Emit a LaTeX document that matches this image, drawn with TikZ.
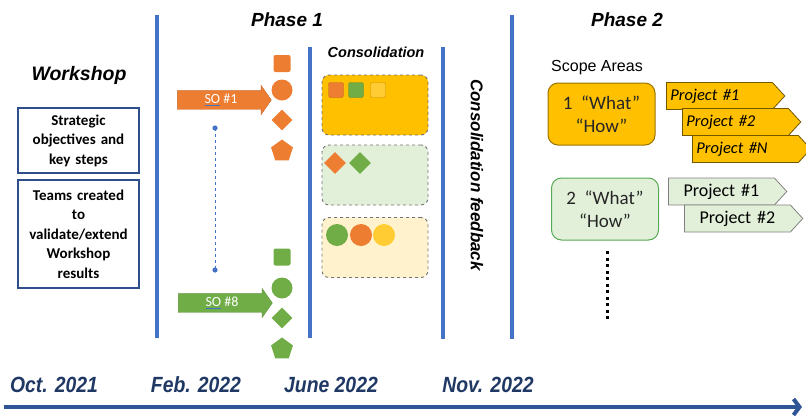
\documentclass[tikz,border=0pt]{standalone}
\usepackage{fontspec}
\setmainfont{Carlito}
\newfontfamily\arial{Liberation Sans}
\newfontfamily\datefont[FakeStretch=0.88]{Liberation Sans}
\usetikzlibrary{shapes.geometric,shapes.symbols,shapes.arrows,arrows.meta}

\definecolor{lineblue}{HTML}{4472C4}
\definecolor{boxblue}{HTML}{2F4E8C}
\definecolor{navy}{HTML}{1F3864}
\definecolor{axisblue}{HTML}{2F5597}
\definecolor{soorange}{HTML}{ED7D31}
\definecolor{sogreen}{HTML}{70AD47}
\definecolor{gold}{HTML}{FFC000}
\definecolor{sunyellow}{HTML}{FFCC33}
\definecolor{lightgreen}{HTML}{E2F0D9}
\definecolor{cream}{HTML}{FFF2CC}

\begin{document}
\begin{tikzpicture}[x=1pt, y=-1pt,
    phaseline/.style={lineblue, line width=3.5},
    heading/.style={font=\fontsize{19}{22}\selectfont\arial\bfseries\itshape},
    wsbox/.style={draw=boxblue, line width=1.6, text width=115, align=center,
        font=\fontsize{15}{19.5}\selectfont\bfseries, inner sep=3},
    soarrow/.style={single arrow, single arrow head extend=5, single arrow tip angle=110,
        minimum height=94, text=white, font=\fontsize{14}{14}\selectfont,
        text height=9.5, text depth=2, inner ysep=3.5, inner xsep=2},
    sqmark/.style={rectangle, rounded corners=2, minimum size=17, inner sep=0},
    dotmark/.style={circle, minimum size=21, inner sep=0},
    diamark/.style={diamond, minimum width=21, minimum height=21, inner sep=0},
    pentmark/.style={regular polygon, regular polygon sides=5, minimum size=23, inner sep=0},
    consbox/.style={draw=black!55, dashed, rounded corners=7, line width=0.9,
        minimum width=106, minimum height=60},
    scopebox/.style={rounded corners=10, line width=1, minimum width=107, minimum height=62,
        align=center, font=\fontsize{19}{23}\selectfont, text=black!85},
    tagbox/.style={signal, signal to=east, signal pointer angle=95, anchor=west,
        minimum height=27, inner ysep=0, inner xsep=4, text width=98, line width=0.8},
    date/.style={font=\fontsize{22}{24}\selectfont\datefont\bfseries\itshape, text=navy}
]
    \useasboundingbox (0,0) rectangle (806,416);
    \def\colx{282}

    \draw[phaseline] (157,15) -- (157,338);
    \draw[phaseline] (310,47) -- (310,338);
    \draw[phaseline] (443,47) -- (443,339);
    \draw[phaseline] (512,15) -- (512,339);

    \node[heading] (phase1) at (287,20) {Phase 1};
    \node[heading] (phase2) at (627,20) {Phase 2};

    \node[heading, font=\fontsize{19.5}{22}\selectfont\arial\bfseries\itshape] (workshop) at (79,75) {Workshop};
    \node[wsbox, minimum height=65] (strategic) at (78.5,140.5) {Strategic\\objectives and\\key steps};
    \node[wsbox, minimum height=108] (teams) at (78.5,234) {Teams created\\to\\validate/extend\\Workshop\\results};

    \node[soarrow, fill=soorange, draw=soorange!85!black] (so1) at (221,100)
        {{\color{lineblue}\underline{\textcolor{white}{SO}}} \#1};
    \node[soarrow, fill=sogreen, draw=sogreen!85!black] (so8) at (222,303)
        {{\color{lineblue}\underline{\textcolor{white}{SO}}} \#8};
    \coordinate (dtop) at (215,128);
    \coordinate (dbot) at (215,270);
    \draw[lineblue, dashed, line width=0.9] (dtop) -- (dbot);
    \fill[lineblue] (dtop) circle (2.6);
    \fill[lineblue] (dbot) circle (2.6);

    \node[sqmark, fill=soorange] (osq) at (\colx,63.5) {};
    \node[dotmark, fill=soorange] (ocirc) at (\colx,90) {};
    \node[diamark, fill=soorange] (odia) at (\colx,120) {};
    \node[pentmark, fill=soorange] (opent) at (\colx,151) {};
    \node[sqmark, fill=sogreen] (gsq) at (\colx,257) {};
    \node[dotmark, fill=sogreen] (gcirc) at (\colx,288) {};
    \node[diamark, fill=sogreen] (gdia) at (\colx,318) {};
    \node[pentmark, fill=sogreen] (gpent) at (\colx,349) {};

    \node[heading, font=\fontsize{14.5}{16}\selectfont\arial\bfseries\itshape] (cons) at (376,52) {Consolidation};
    \node[consbox, fill=gold] (consA) at (375,105) {};
    \node[consbox, fill=lightgreen] (consB) at (375,175) {};
    \node[consbox, fill=cream] (consC) at (375,247.5) {};
    \node[sqmark, minimum size=15, fill=soorange, draw=soorange!80!black, line width=0.4] (asq1) at (336,90) {};
    \node[sqmark, minimum size=15, fill=sogreen, draw=sogreen!80!black, line width=0.4] (asq2) at (356,90) {};
    \node[sqmark, minimum size=15, fill=sunyellow, draw=gold!75!black, line width=0.4] (asq3) at (378,90) {};
    \node[diamark, minimum width=22, minimum height=22, fill=soorange] (bdia1) at (335,163) {};
    \node[diamark, minimum width=22, minimum height=22, fill=sogreen] (bdia2) at (360,163) {};
    \node[dotmark, minimum size=22, fill=sogreen] (cdot1) at (337,235) {};
    \node[dotmark, minimum size=22, fill=soorange] (cdot2) at (361,235) {};
    \node[dotmark, minimum size=22, fill=sunyellow] (cdot3) at (384,235) {};

    \node[heading, font=\fontsize{17}{19}\selectfont\arial\bfseries\itshape, rotate=-90] (feedback) at (477,175)
        {Consolidation feedback};

    \node[font=\fontsize{16}{18}\selectfont\arial] (scopes) at (597,68) {Scope Areas};
    \node[scopebox, fill=gold, draw=gold!60!black] (scope1) at (601.5,114) {1~~“What”\\“How”};
    \node[tagbox, fill=gold, draw=gold!45!black, align=left, font=\fontsize{16.5}{18}\selectfont\itshape] (p11) at (666,96) {Project \#1};
    \node[tagbox, fill=gold, draw=gold!45!black, align=left, font=\fontsize{16.5}{18}\selectfont\itshape] (p12) at (682,122) {Project \#2};
    \node[tagbox, fill=gold, draw=gold!45!black, align=left, font=\fontsize{16.5}{18}\selectfont\itshape] (p1n) at (692,149) {Project \#N};

    \node[scopebox, fill=lightgreen, draw=black!45!lightgreen!70!green] (scope2) at (605,209) {2~~“What”\\“How”};
    \node[tagbox, fill=lightgreen, draw=black!50, align=center, font=\fontsize{18}{20}\selectfont] (p21) at (668,191.5) {Project \#1};
    \node[tagbox, fill=lightgreen, draw=black!50, align=center, font=\fontsize{18}{20}\selectfont] (p22) at (684,218.5) {Project \#2};

    \coordinate (more) at (607,251);
    \draw[black, line width=3, dash pattern=on 3 off 3.5] (more) -- ++(0,68);

    \node[date] (oct) at (54,385) {Oct. 2021};
    \node[date] (feb) at (196,385) {Feb. 2022};
    \node[date] (june) at (331,385) {June 2022};
    \node[date] (nov) at (488,385) {Nov. 2022};
    \coordinate (tstart) at (4,407);
    \coordinate (tend) at (802,407);
    \draw[axisblue, line width=4, -{Straight Barb[length=6, width=16]}] (tstart) -- (tend);
\end{tikzpicture}
\end{document}
